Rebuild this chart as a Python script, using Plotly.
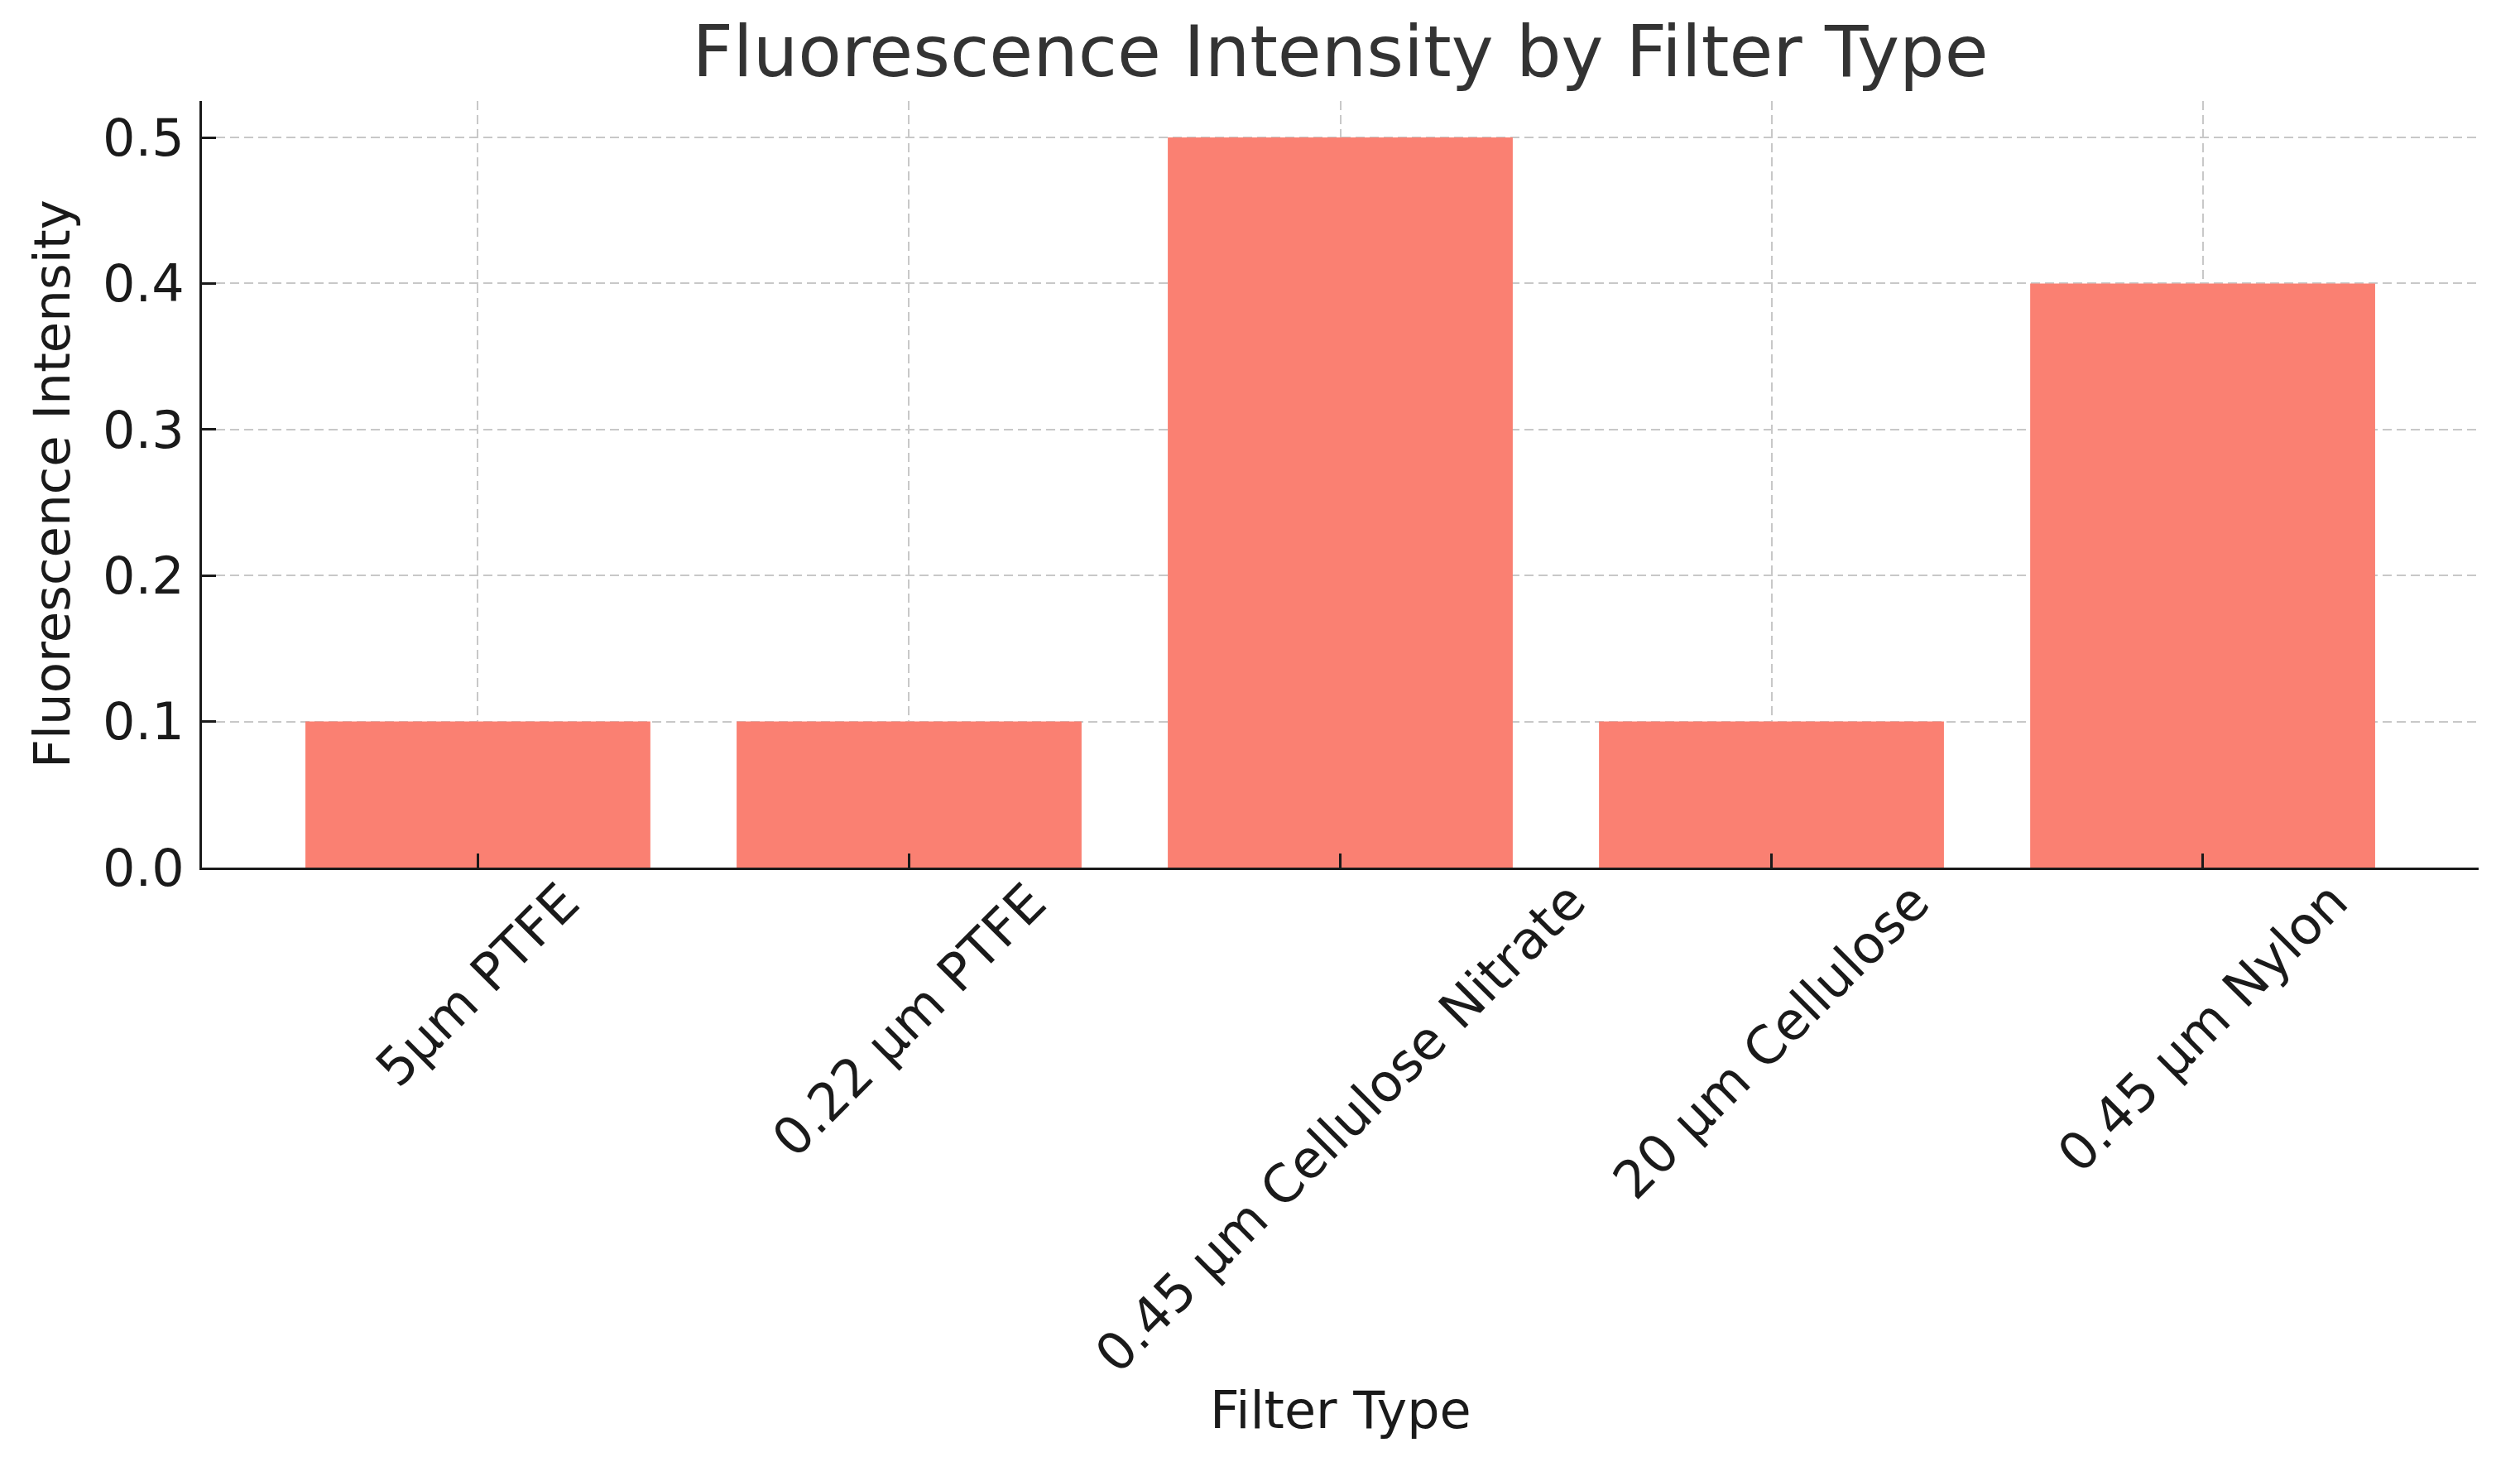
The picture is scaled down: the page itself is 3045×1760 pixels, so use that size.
import plotly.graph_objects as go

categories = ["5µm PTFE", "0.22 µm PTFE", "0.45 µm Cellulose Nitrate", "20 µm Cellulose", "0.45 µm Nylon"]
intensity = [0.1, 0.1, 0.5, 0.1, 0.4]
y_ticks = [0.0, 0.1, 0.2, 0.3, 0.4, 0.5]

FONT = "DejaVu Sans"
BODY = 8  # default page body margin
W, H = 3045 - 2 * BODY, 1760 - 2 * BODY
L, R, T, B = 244 - BODY, 42, 122 - BODY, 704

fig = go.Figure()
fig.add_trace(go.Bar(
    x=categories, y=intensity,
    marker=dict(color="#FA8072", line=dict(width=0)),
    width=0.8,
))

grid = dict(showgrid=True, gridcolor="#c8c8c8", gridwidth=2, griddash="11px,6px")

fig.update_layout(
    width=W, height=H,
    margin=dict(l=L, r=R, t=T, b=B, pad=0),
    plot_bgcolor="white", paper_bgcolor="white",
    showlegend=False,
    bargap=0.2,
    title=dict(
        text="Fluorescence Intensity by Filter Type",
        font=dict(family=FONT, size=86, color="#333333"),
        x=0.5, xref="paper", xanchor="center",
        y=1 - (62 - BODY) / H, yref="container", yanchor="middle",
    ),
    xaxis=dict(
        type="category",
        range=[-0.64, 4.64],
        showline=True, linecolor="#1a1a1a", linewidth=3,
        ticks="inside", ticklen=17, tickwidth=2.5, tickcolor="#1a1a1a",
        showticklabels=False,
        zeroline=False,
        layer="above traces",
        **grid,
    ),
    yaxis=dict(
        range=[0, 0.525],
        tickvals=y_ticks, tickformat=".1f",
        showline=True, linecolor="#1a1a1a", linewidth=3,
        ticks="inside", ticklen=17, tickwidth=2.5, tickcolor="#1a1a1a",
        tickfont=dict(family=FONT, size=62, color="#1a1a1a"),
        ticklabelstandoff=6,
        zeroline=False,
        layer="above traces",
        **grid,
    ),
)

ann = []
for c in categories:
    ann.append(dict(
        x=c, xref="x", y=0, yref="paper",
        text=c, textangle=-45, showarrow=False,
        xanchor="center", yanchor="top", yshift=-2,
        font=dict(family=FONT, size=63, color="#1a1a1a"),
    ))
plot_h = 1048 - 122
ann.append(dict(
    x=0.5, xref="paper", y=(1048 - 1703) / plot_h, yref="paper",
    text="Filter Type", showarrow=False,
    xanchor="center", yanchor="middle",
    font=dict(family=FONT, size=62, color="#1a1a1a"),
))
ann.append(dict(
    x=0, xref="paper", y=0.5, yref="paper",
    xshift=62 - 244, text="Fluorescence Intensity", textangle=-90, showarrow=False,
    xanchor="center", yanchor="middle",
    font=dict(family=FONT, size=61, color="#1a1a1a"),
))
fig.update_layout(annotations=ann)

fig.write_html("out.html")
